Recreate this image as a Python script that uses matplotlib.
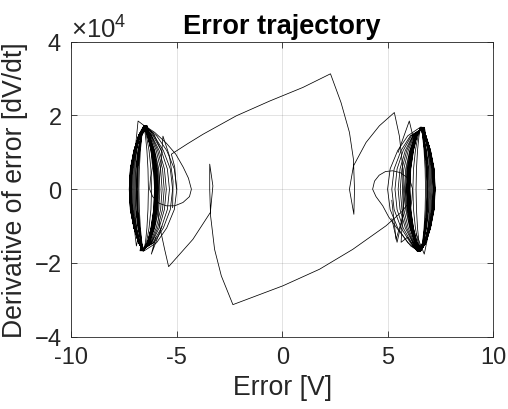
import matplotlib
matplotlib.use('Agg')
import matplotlib.pyplot as plt
from matplotlib.ticker import ScalarFormatter

plt.rcParams['font.family'] = ['Liberation Sans', 'DejaVu Sans']
plt.rcParams['axes.unicode_minus'] = False
plt.rcParams['mathtext.fontset'] = 'custom'
plt.rcParams['mathtext.rm'] = 'Liberation Sans'
plt.rcParams['mathtext.it'] = 'Liberation Sans:italic'

# derivative values are stored in units of 1e4 V/s
SCALE = 1e4

# y levels shared by the lens-shaped loops
SIDE_DOWN = [1.45, 1.05, 0.55, 0.0, -0.55, -1.05, -1.45]
SIDE_UP = [-1.45, -1.05, -0.55, 0.0, 0.55, 1.05, 1.45]

# left scroll: [x top, left side (down), x bottom, right side (up)]
LEFT_TOP, LEFT_BOT = 1.72, -1.67
LEFT_LOOPS = [
    [-6.55, -6.82, -7.03, -7.20, -7.25, -7.20, -7.03, -6.82, -6.60, -6.36, -6.17, -6.03, -5.98, -6.03, -6.17, -6.36],
    [-6.54, -6.81, -7.01, -7.17, -7.22, -7.17, -7.01, -6.81, -6.61, -6.35, -6.15, -6.00, -5.95, -6.00, -6.15, -6.35],
    [-6.56, -6.81, -7.03, -7.19, -7.24, -7.19, -7.03, -6.81, -6.59, -6.38, -6.20, -6.06, -6.02, -6.06, -6.20, -6.38],
    [-6.53, -6.80, -7.00, -7.15, -7.20, -7.15, -7.00, -6.80, -6.62, -6.33, -6.12, -5.95, -5.90, -5.95, -6.12, -6.33],
    [-6.57, -6.66, -6.73, -6.78, -6.80, -6.78, -6.73, -6.66, -6.58, -6.44, -6.32, -6.23, -6.20, -6.23, -6.32, -6.44],
    [-6.52, -6.79, -6.99, -7.13, -7.18, -7.13, -6.99, -6.79, -6.63, -6.31, -6.08, -5.91, -5.85, -5.91, -6.08, -6.31],
    [-6.57, -6.82, -7.03, -7.20, -7.25, -7.20, -7.03, -6.82, -6.58, -6.39, -6.22, -6.09, -6.05, -6.09, -6.22, -6.39],
    [-6.55, -6.82, -7.04, -7.21, -7.26, -7.21, -7.04, -6.82, -6.60, -6.37, -6.18, -6.05, -6.00, -6.05, -6.18, -6.37],
    [-6.50, -6.78, -6.97, -7.10, -7.15, -7.10, -6.97, -6.78, -6.64, -6.30, -6.05, -5.86, -5.80, -5.86, -6.05, -6.30],
    [-6.55, -6.81, -7.01, -7.17, -7.22, -7.17, -7.01, -6.81, -6.60, -6.34, -6.13, -5.97, -5.92, -5.97, -6.13, -6.34],
    [-6.48, -6.76, -6.93, -7.06, -7.10, -7.06, -6.93, -6.76, -6.66, -6.26, -5.98, -5.77, -5.70, -5.77, -5.98, -6.26],
    [-6.56, -6.69, -6.80, -6.87, -6.90, -6.87, -6.80, -6.69, -6.58, -6.49, -6.42, -6.37, -6.35, -6.37, -6.42, -6.49],
    [-6.55, -6.81, -7.03, -7.19, -7.24, -7.19, -7.03, -6.81, -6.60, -6.36, -6.18, -6.04, -5.99, -6.04, -6.18, -6.36],
    [-6.46, -6.75, -6.90, -7.01, -7.05, -7.01, -6.90, -6.75, -6.68, -6.22, -5.91, -5.68, -5.60, -5.68, -5.91, -6.22],
    [-6.56, -6.80, -7.00, -7.15, -7.20, -7.15, -7.00, -6.80, -6.59, -6.36, -6.16, -6.02, -5.97, -6.02, -6.16, -6.36],
    [-6.44, -6.71, -6.83, -6.92, -6.95, -6.92, -6.83, -6.71, -6.70, -6.19, -5.84, -5.59, -5.50, -5.59, -5.84, -6.19],
    [-6.56, -6.80, -6.99, -7.14, -7.19, -7.14, -6.99, -6.80, -6.59, -6.39, -6.23, -6.10, -6.06, -6.10, -6.23, -6.39],
    [-6.56, -6.80, -7.01, -7.16, -7.21, -7.16, -7.01, -6.80, -6.59, -6.38, -6.20, -6.07, -6.03, -6.07, -6.20, -6.38],
    [-6.42, -6.69, -6.80, -6.87, -6.90, -6.87, -6.80, -6.69, -6.72, -6.13, -5.74, -5.45, -5.35, -5.45, -5.74, -6.13],
    [-6.55, -6.81, -7.02, -7.18, -7.23, -7.18, -7.02, -6.81, -6.60, -6.37, -6.18, -6.05, -6.00, -6.05, -6.18, -6.37],
    [-6.40, -6.67, -6.76, -6.83, -6.85, -6.83, -6.76, -6.67, -6.75, -6.08, -5.64, -5.31, -5.20, -5.31, -5.64, -6.08],
    [-6.45, -6.68, -6.84, -6.96, -7.00, -6.96, -6.84, -6.68, -6.55, -5.96, -5.48, -5.12, -5.00, -5.12, -5.48, -5.96],
]

# right scroll: [x top, inner side (down), x bottom, outer side (up)]
RIGHT_TOP, RIGHT_BOT = 1.68, -1.68
RIGHT_LOOPS = [
    [6.58, 6.35, 6.16, 6.02, 5.97, 6.02, 6.16, 6.35, 6.53, 6.81, 7.02, 7.19, 7.24, 7.19, 7.02, 6.81],
    [6.61, 6.35, 6.15, 6.00, 5.95, 6.00, 6.15, 6.35, 6.54, 6.81, 7.01, 7.17, 7.22, 7.17, 7.01, 6.81],
    [6.58, 6.37, 6.19, 6.05, 6.01, 6.05, 6.19, 6.37, 6.55, 6.80, 7.01, 7.17, 7.22, 7.17, 7.01, 6.80],
    [6.62, 6.33, 6.12, 5.95, 5.90, 5.95, 6.12, 6.33, 6.53, 6.80, 7.00, 7.15, 7.20, 7.15, 7.00, 6.80],
    [6.58, 6.49, 6.42, 6.37, 6.35, 6.37, 6.42, 6.49, 6.56, 6.69, 6.80, 6.87, 6.90, 6.87, 6.80, 6.69],
    [6.63, 6.31, 6.08, 5.91, 5.85, 5.91, 6.08, 6.31, 6.52, 6.79, 6.99, 7.13, 7.18, 7.13, 6.99, 6.79],
    [6.58, 6.39, 6.22, 6.09, 6.05, 6.09, 6.22, 6.39, 6.57, 6.82, 7.03, 7.20, 7.25, 7.20, 7.03, 6.82],
    [6.60, 6.37, 6.18, 6.05, 6.00, 6.05, 6.18, 6.37, 6.55, 6.82, 7.04, 7.21, 7.26, 7.21, 7.04, 6.82],
    [6.64, 6.30, 6.05, 5.86, 5.80, 5.86, 6.05, 6.30, 6.50, 6.78, 6.97, 7.10, 7.15, 7.10, 6.97, 6.78],
    [6.60, 6.34, 6.13, 5.97, 5.92, 5.97, 6.13, 6.34, 6.55, 6.81, 7.01, 7.17, 7.22, 7.17, 7.01, 6.81],
    [6.66, 6.26, 5.98, 5.77, 5.70, 5.77, 5.98, 6.26, 6.48, 6.76, 6.93, 7.06, 7.10, 7.06, 6.93, 6.76],
    [6.58, 6.44, 6.32, 6.23, 6.20, 6.23, 6.32, 6.44, 6.57, 6.66, 6.73, 6.78, 6.80, 6.78, 6.73, 6.66],
    [6.60, 6.36, 6.18, 6.04, 5.99, 6.04, 6.18, 6.36, 6.55, 6.81, 7.03, 7.19, 7.24, 7.19, 7.03, 6.81],
    [6.68, 6.22, 5.91, 5.68, 5.60, 5.68, 5.91, 6.22, 6.46, 6.75, 6.90, 7.01, 7.05, 7.01, 6.90, 6.75],
    [6.59, 6.36, 6.16, 6.02, 5.97, 6.02, 6.16, 6.36, 6.56, 6.80, 7.00, 7.15, 7.20, 7.15, 7.00, 6.80],
    [6.70, 6.19, 5.84, 5.59, 5.50, 5.59, 5.84, 6.19, 6.44, 6.71, 6.83, 6.92, 6.95, 6.92, 6.83, 6.71],
    [6.59, 6.39, 6.23, 6.10, 6.06, 6.10, 6.23, 6.39, 6.56, 6.80, 6.99, 7.14, 7.19, 7.14, 6.99, 6.80],
    [6.72, 6.13, 5.74, 5.45, 5.35, 5.45, 5.74, 6.13, 6.42, 6.69, 6.80, 6.87, 6.90, 6.87, 6.80, 6.69],
    [6.60, 6.37, 6.18, 6.05, 6.00, 6.05, 6.18, 6.37, 6.55, 6.81, 7.02, 7.18, 7.23, 7.18, 7.02, 6.81],
    [6.75, 6.08, 5.64, 5.31, 5.20, 5.31, 5.64, 6.08, 6.40, 6.67, 6.76, 6.83, 6.85, 6.83, 6.76, 6.67],
    [6.59, 6.38, 6.20, 6.07, 6.03, 6.07, 6.20, 6.38, 6.56, 6.80, 7.01, 7.16, 7.21, 7.16, 7.01, 6.80],
    [6.55, 5.96, 5.48, 5.12, 5.00, 5.12, 5.48, 5.96, 6.45, 6.68, 6.84, 6.96, 7.00, 6.96, 6.84, 6.68],
]

# jump from the left scroll over the top to the right scroll
UPPER_X = [-5.02, -5.10, -5.26, -4.50, -3.76, -2.18, -0.60, 0.98, 2.29, 2.79, 3.19,
           3.38, 3.43, 3.40, 3.19, 3.38, 3.98, 4.61, 5.32, 5.56, 5.70, 5.75,
           5.72, 5.64, 5.95, 6.25, 6.52]
UPPER_Y = [0.00, 0.60, 0.95, 1.23, 1.49, 1.99, 2.39, 2.76, 3.13, 2.35, 1.54,
           0.81, 0.00, -0.68, 0.00, 0.63, 1.27, 1.72, 2.08, 1.44, 0.70, 0.00,
           -0.70, -1.44, -1.30, -1.55, -1.68]

# jump from the right scroll under the bottom to the left scroll
LOWER_X = [6.10, 5.64, 5.30, 4.93, 3.35, 1.77, 0.03, -2.34, -2.89, -3.21, -3.40,
           -3.44, -3.44, -3.29, -3.41, -4.24, -5.39, -5.58, -5.82, -5.95,
           -5.95, -6.20, -6.55]
LOWER_Y = [-0.30, -0.63, -0.80, -0.99, -1.63, -2.17, -2.62, -3.13, -2.35, -1.63, -0.72,
           0.00, 0.68, 0.09, -0.63, -1.36, -2.10, -1.63, -0.99, -0.30,
           0.50, 1.25, 1.72]

# loops that swing out from each scroll
LEFT_SWING_X = [-6.52, -6.05, -5.50, -5.05, -4.70, -4.45, -4.31, -4.40, -4.71,
                -5.10, -5.50, -5.85, -6.15, -6.29, -6.25, -6.15, -6.25, -6.52]
LEFT_SWING_Y = [1.72, 1.54, 1.25, 0.95, 0.60, 0.30, 0.00, -0.20, -0.36,
                -0.45, -0.45, -0.38, -0.20, 0.00, 0.30, 0.60, 1.20, 1.72]
RIGHT_SWING_X = [6.48, 6.10, 5.50, 5.05, 4.77, 4.45, 4.29, 4.38, 4.60, 4.90,
                 5.24, 5.60, 5.90, 6.10, 6.19, 6.15, 6.10, 6.15, 6.30, 6.50]
RIGHT_SWING_Y = [-1.68, -1.54, -1.10, -0.75, -0.45, -0.20, 0.00, 0.22, 0.38, 0.48,
                 0.50, 0.45, 0.33, 0.17, 0.00, -0.30, -0.50, -1.00, -1.40, -1.68]

# short overshoots at the tips of the scrolls
TIPS = [
    ([-6.99, -6.84, -6.13, -5.70], [0.99, 1.85, 1.54, 1.00]),
    ([-5.90, -5.75, -5.66, -5.35, -5.18, -5.20], [-0.14, 0.70, 1.44, 0.90, 0.22, -0.50]),
    ([-7.05, -6.92, -6.75], [-0.90, -1.54, -1.10]),
    ([-5.70, -6.21, -6.00], [-1.00, -1.76, -1.30]),
    ([5.50, 6.03, 6.30], [1.00, 1.85, 1.20]),
    ([7.05, 6.74, 6.35], [-0.90, -1.76, -1.20]),
    ([5.20, 5.40, 5.75], [-0.30, -1.36, -0.70]),
    ([5.90, 5.66, 5.45, 5.20], [0.14, -0.90, -1.44, -0.80]),
]


def scroll_path(rows, top_y, bot_y):
    xs, ys = [], []
    for r in rows:
        xs += [r[0]] + r[1:8] + [r[8]] + r[9:16]
        ys += [top_y] + SIDE_DOWN + [bot_y] + SIDE_UP
    xs.append(rows[0][0])
    ys.append(top_y)
    return xs, [v * SCALE for v in ys]


fig = plt.figure(figsize=(5.08, 4.10), dpi=100)
ax = fig.add_axes([0.1407, 0.1763, 0.8297, 0.7195])

line_kw = dict(color='k', lw=0.55)
for rows, ty, by in [(LEFT_LOOPS, LEFT_TOP, LEFT_BOT), (RIGHT_LOOPS, RIGHT_TOP, RIGHT_BOT)]:
    xs, ys = scroll_path(rows, ty, by)
    ax.plot(xs, ys, **line_kw)
for xs, ys in [(UPPER_X, UPPER_Y), (LOWER_X, LOWER_Y),
               (LEFT_SWING_X, LEFT_SWING_Y), (RIGHT_SWING_X, RIGHT_SWING_Y)] + TIPS:
    ax.plot(xs, [v * SCALE for v in ys], **line_kw)

ax.set_xlim(-10, 10)
ax.set_ylim(-4e4, 4e4)
ax.set_xticks([-10, -5, 0, 5, 10])
ax.set_yticks([-4e4, -2e4, 0, 2e4, 4e4])

fmt = ScalarFormatter(useMathText=True)
fmt.set_powerlimits((0, 0))
ax.yaxis.set_major_formatter(fmt)
ax.yaxis.get_offset_text().set_fontsize(18.5)
ax.yaxis.get_offset_text().set_color('#262626')

ax.grid(True, color='#262626', alpha=0.15, lw=0.6)
ax.set_axisbelow(True)
for s in ax.spines.values():
    s.set_color('#262626')
    s.set_linewidth(0.6)
ax.tick_params(direction='in', top=True, right=True, length=4, width=0.6,
               labelsize=17, colors='#262626', pad=7)

ax.set_xlabel('Error [V]', fontsize=19.2, color='#262626')
ax.set_ylabel('Derivative of error [dV/dt]', fontsize=19.2, color='#262626')
ax.set_title('Error trajectory', fontsize=19.5, fontweight='bold')

fig.savefig('out.png', dpi=100)
